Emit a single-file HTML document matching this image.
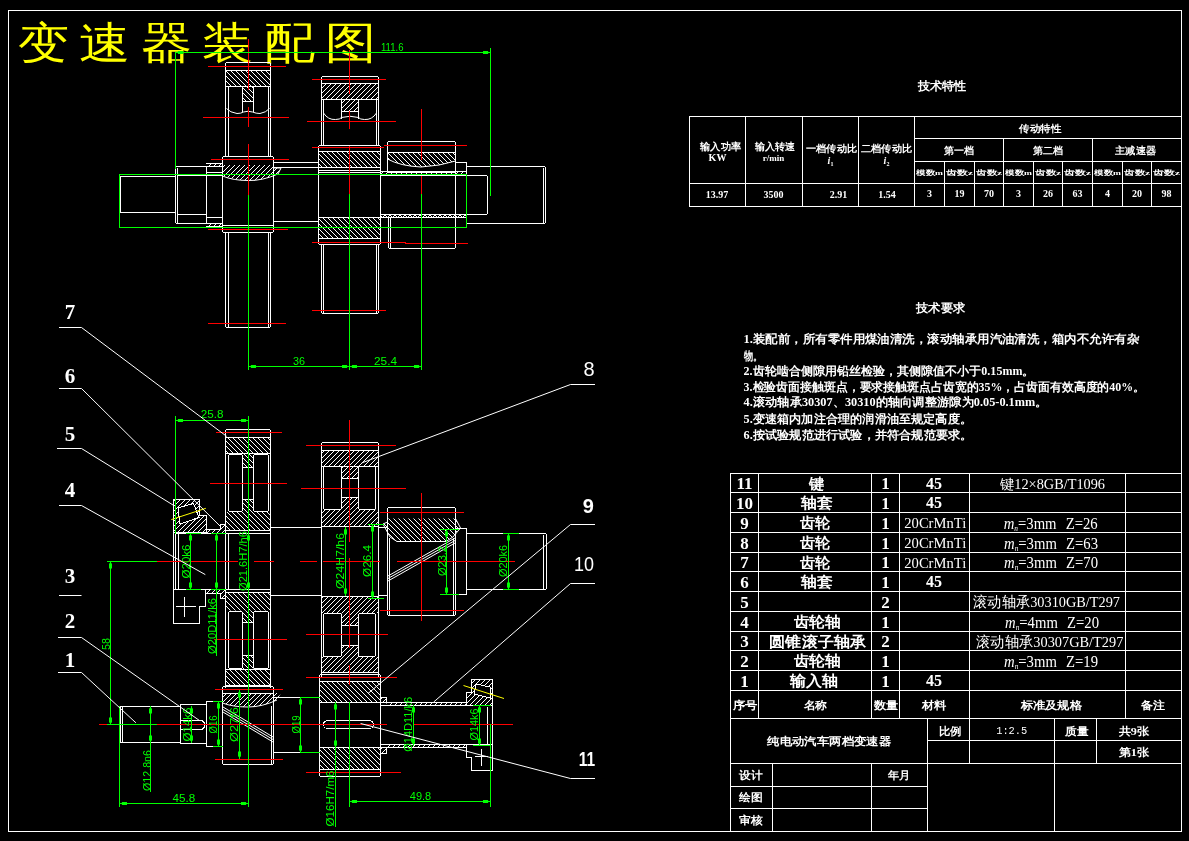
<!DOCTYPE html><html><head><meta charset="utf-8"><style>html,body{margin:0;padding:0;background:#000;width:1189px;height:841px;overflow:hidden}svg{display:block;will-change:transform}</style></head><body>
<svg width="1189" height="841" viewBox="0 0 1189 841">
<defs>
<pattern id="hA" patternUnits="userSpaceOnUse" width="5" height="5" shape-rendering="crispEdges" stroke-linecap="square"><rect x="4" y="0" width="1" height="1" fill="#fff"/><rect x="3" y="1" width="1" height="1" fill="#fff"/><rect x="2" y="2" width="1" height="1" fill="#fff"/><rect x="1" y="3" width="1" height="1" fill="#fff"/><rect x="0" y="4" width="1" height="1" fill="#fff"/></pattern>
<pattern id="hB" patternUnits="userSpaceOnUse" width="5" height="5" shape-rendering="crispEdges" stroke-linecap="square"><rect x="0" y="0" width="1" height="1" fill="#fff"/><rect x="1" y="1" width="1" height="1" fill="#fff"/><rect x="2" y="2" width="1" height="1" fill="#fff"/><rect x="3" y="3" width="1" height="1" fill="#fff"/><rect x="4" y="4" width="1" height="1" fill="#fff"/></pattern>
</defs>
<rect x="0" y="0" width="1189" height="841" fill="#000"/>
<g fill="none" stroke-width="1" shape-rendering="crispEdges" stroke-linecap="square">
<rect x="8.5" y="10.5" width="1173" height="821" stroke="#fff" fill="none" rx="0"/>
</g>
<g fill="none" stroke-width="1" shape-rendering="crispEdges" stroke-linecap="square">
<rect x="689.5" y="116.5" width="492" height="90" stroke="#fff" fill="none" rx="0"/>
<line x1="689.5" y1="183.5" x2="1181.5" y2="183.5" stroke="#fff" stroke-width="1"/>
<line x1="745.5" y1="116.5" x2="745.5" y2="206.5" stroke="#fff" stroke-width="1"/>
<line x1="802.5" y1="116.5" x2="802.5" y2="206.5" stroke="#fff" stroke-width="1"/>
<line x1="858.5" y1="116.5" x2="858.5" y2="206.5" stroke="#fff" stroke-width="1"/>
<line x1="914.5" y1="116.5" x2="914.5" y2="206.5" stroke="#fff" stroke-width="1"/>
<line x1="914.5" y1="138.5" x2="1181.5" y2="138.5" stroke="#fff" stroke-width="1"/>
<line x1="914.5" y1="161.5" x2="1181.5" y2="161.5" stroke="#fff" stroke-width="1"/>
<line x1="1003.5" y1="138.5" x2="1003.5" y2="206.5" stroke="#fff" stroke-width="1"/>
<line x1="1092.5" y1="138.5" x2="1092.5" y2="206.5" stroke="#fff" stroke-width="1"/>
<line x1="944.5" y1="161.5" x2="944.5" y2="206.5" stroke="#fff" stroke-width="1"/>
<line x1="974.5" y1="161.5" x2="974.5" y2="206.5" stroke="#fff" stroke-width="1"/>
<line x1="1033.5" y1="161.5" x2="1033.5" y2="206.5" stroke="#fff" stroke-width="1"/>
<line x1="1062.5" y1="161.5" x2="1062.5" y2="206.5" stroke="#fff" stroke-width="1"/>
<line x1="1122.5" y1="161.5" x2="1122.5" y2="206.5" stroke="#fff" stroke-width="1"/>
<line x1="1151.5" y1="161.5" x2="1151.5" y2="206.5" stroke="#fff" stroke-width="1"/>
<line x1="730.5" y1="473.5" x2="1181.5" y2="473.5" stroke="#fff" stroke-width="1"/>
<line x1="730.5" y1="492.5" x2="1181.5" y2="492.5" stroke="#fff" stroke-width="1"/>
<line x1="730.5" y1="512.5" x2="1181.5" y2="512.5" stroke="#fff" stroke-width="1"/>
<line x1="730.5" y1="532.5" x2="1181.5" y2="532.5" stroke="#fff" stroke-width="1"/>
<line x1="730.5" y1="552.5" x2="1181.5" y2="552.5" stroke="#fff" stroke-width="1"/>
<line x1="730.5" y1="571.5" x2="1181.5" y2="571.5" stroke="#fff" stroke-width="1"/>
<line x1="730.5" y1="591.5" x2="1181.5" y2="591.5" stroke="#fff" stroke-width="1"/>
<line x1="730.5" y1="611.5" x2="1181.5" y2="611.5" stroke="#fff" stroke-width="1"/>
<line x1="730.5" y1="631.5" x2="1181.5" y2="631.5" stroke="#fff" stroke-width="1"/>
<line x1="730.5" y1="650.5" x2="1181.5" y2="650.5" stroke="#fff" stroke-width="1"/>
<line x1="730.5" y1="670.5" x2="1181.5" y2="670.5" stroke="#fff" stroke-width="1"/>
<line x1="730.5" y1="690.5" x2="1181.5" y2="690.5" stroke="#fff" stroke-width="1"/>
<line x1="730.5" y1="718.5" x2="1181.5" y2="718.5" stroke="#fff" stroke-width="1"/>
<line x1="758.5" y1="473.5" x2="758.5" y2="718.5" stroke="#fff" stroke-width="1"/>
<line x1="871.5" y1="473.5" x2="871.5" y2="718.5" stroke="#fff" stroke-width="1"/>
<line x1="899.5" y1="473.5" x2="899.5" y2="718.5" stroke="#fff" stroke-width="1"/>
<line x1="969.5" y1="473.5" x2="969.5" y2="718.5" stroke="#fff" stroke-width="1"/>
<line x1="1125.5" y1="473.5" x2="1125.5" y2="718.5" stroke="#fff" stroke-width="1"/>
<line x1="730.5" y1="473.5" x2="730.5" y2="831.5" stroke="#fff" stroke-width="1"/>
<line x1="927.5" y1="718.5" x2="927.5" y2="831.5" stroke="#fff" stroke-width="1"/>
<line x1="730.5" y1="763.5" x2="1181.5" y2="763.5" stroke="#fff" stroke-width="1"/>
<line x1="927.5" y1="740.5" x2="1181.5" y2="740.5" stroke="#fff" stroke-width="1"/>
<line x1="969.5" y1="718.5" x2="969.5" y2="763.5" stroke="#fff" stroke-width="1"/>
<line x1="1096.5" y1="718.5" x2="1096.5" y2="763.5" stroke="#fff" stroke-width="1"/>
<line x1="1054.5" y1="718.5" x2="1054.5" y2="831.5" stroke="#fff" stroke-width="1"/>
<line x1="730.5" y1="786.5" x2="927.5" y2="786.5" stroke="#fff" stroke-width="1"/>
<line x1="730.5" y1="808.5" x2="927.5" y2="808.5" stroke="#fff" stroke-width="1"/>
<line x1="772.5" y1="763.5" x2="772.5" y2="831.5" stroke="#fff" stroke-width="1"/>
<line x1="871.5" y1="763.5" x2="871.5" y2="831.5" stroke="#fff" stroke-width="1"/>
</g>
<text x="18" y="0" transform="matrix(1 0 0 0.86 0 58)" font-size="51" fill="#ff0" font-family="Liberation Serif" letter-spacing="10">变速器装配图</text>
<text x="917.5" y="89.82" font-size="12" fill="#fff" text-anchor="start" font-family="Liberation Serif" font-weight="bold" textLength="48.5" lengthAdjust="spacingAndGlyphs">技术特性</text>
<text x="700" y="150.1" font-size="10" fill="#fff" text-anchor="start" font-family="Liberation Serif" font-weight="bold" textLength="41" lengthAdjust="spacingAndGlyphs">输入功率</text>
<text x="717.5" y="160.9" font-size="10" fill="#fff" text-anchor="middle" font-family="Liberation Serif" font-weight="bold">KW</text>
<text x="755" y="150.1" font-size="10" fill="#fff" text-anchor="start" font-family="Liberation Serif" font-weight="bold" textLength="40" lengthAdjust="spacingAndGlyphs">输入转速</text>
<text x="773.5" y="160.56" font-size="9" fill="#fff" text-anchor="middle" font-family="Liberation Serif" font-weight="bold">r/min</text>
<text x="806" y="151.6" font-size="10" fill="#fff" text-anchor="start" font-family="Liberation Serif" font-weight="bold" textLength="51" lengthAdjust="spacingAndGlyphs">一档传动比</text>
<text x="830.5" y="163.6" font-size="10" fill="#fff" text-anchor="middle" font-family="Liberation Serif" font-weight="bold"><tspan font-style="italic">i</tspan><tspan font-size="6" dy="2">1</tspan></text>
<text x="861" y="151.6" font-size="10" fill="#fff" text-anchor="start" font-family="Liberation Serif" font-weight="bold" textLength="51" lengthAdjust="spacingAndGlyphs">二档传动比</text>
<text x="886.5" y="163.6" font-size="10" fill="#fff" text-anchor="middle" font-family="Liberation Serif" font-weight="bold"><tspan font-style="italic">i</tspan><tspan font-size="6" dy="2">2</tspan></text>
<text x="1019" y="132.1" font-size="10" fill="#fff" text-anchor="start" font-family="Liberation Serif" font-weight="bold" textLength="42" lengthAdjust="spacingAndGlyphs">传动特性</text>
<text x="944" y="153.6" font-size="10" fill="#fff" text-anchor="start" font-family="Liberation Serif" font-weight="bold" textLength="30" lengthAdjust="spacingAndGlyphs">第一档</text>
<text x="1033" y="153.6" font-size="10" fill="#fff" text-anchor="start" font-family="Liberation Serif" font-weight="bold" textLength="30" lengthAdjust="spacingAndGlyphs">第二档</text>
<text x="1115" y="153.6" font-size="10" fill="#fff" text-anchor="start" font-family="Liberation Serif" font-weight="bold" textLength="41" lengthAdjust="spacingAndGlyphs">主减速器</text>
<text x="916" y="175.02" font-size="7" fill="#fff" text-anchor="start" font-family="Liberation Serif" font-weight="bold" textLength="27" lengthAdjust="spacingAndGlyphs">模数m</text>
<text x="946" y="175.02" font-size="7" fill="#fff" text-anchor="start" font-family="Liberation Serif" font-weight="bold" textLength="27" lengthAdjust="spacingAndGlyphs">齿数z</text>
<text x="976" y="175.02" font-size="7" fill="#fff" text-anchor="start" font-family="Liberation Serif" font-weight="bold" textLength="26" lengthAdjust="spacingAndGlyphs">齿数z</text>
<text x="1005" y="175.02" font-size="7" fill="#fff" text-anchor="start" font-family="Liberation Serif" font-weight="bold" textLength="27" lengthAdjust="spacingAndGlyphs">模数m</text>
<text x="1035" y="175.02" font-size="7" fill="#fff" text-anchor="start" font-family="Liberation Serif" font-weight="bold" textLength="26" lengthAdjust="spacingAndGlyphs">齿数z</text>
<text x="1064" y="175.02" font-size="7" fill="#fff" text-anchor="start" font-family="Liberation Serif" font-weight="bold" textLength="27" lengthAdjust="spacingAndGlyphs">齿数z</text>
<text x="1094" y="175.02" font-size="7" fill="#fff" text-anchor="start" font-family="Liberation Serif" font-weight="bold" textLength="27" lengthAdjust="spacingAndGlyphs">模数m</text>
<text x="1124" y="175.02" font-size="7" fill="#fff" text-anchor="start" font-family="Liberation Serif" font-weight="bold" textLength="26" lengthAdjust="spacingAndGlyphs">齿数z</text>
<text x="1153" y="175.02" font-size="7" fill="#fff" text-anchor="start" font-family="Liberation Serif" font-weight="bold" textLength="27" lengthAdjust="spacingAndGlyphs">齿数z</text>
<text x="717" y="198.1" font-size="10" fill="#fff" text-anchor="middle" font-family="Liberation Serif" font-weight="bold">13.97</text>
<text x="773.5" y="198.1" font-size="10" fill="#fff" text-anchor="middle" font-family="Liberation Serif" font-weight="bold">3500</text>
<text x="838.5" y="198.1" font-size="10" fill="#fff" text-anchor="middle" font-family="Liberation Serif" font-weight="bold">2.91</text>
<text x="887" y="198.1" font-size="10" fill="#fff" text-anchor="middle" font-family="Liberation Serif" font-weight="bold">1.54</text>
<text x="929.5" y="197.1" font-size="10" fill="#fff" text-anchor="middle" font-family="Liberation Serif" font-weight="bold">3</text>
<text x="959.5" y="197.1" font-size="10" fill="#fff" text-anchor="middle" font-family="Liberation Serif" font-weight="bold">19</text>
<text x="989" y="197.1" font-size="10" fill="#fff" text-anchor="middle" font-family="Liberation Serif" font-weight="bold">70</text>
<text x="1018.5" y="197.1" font-size="10" fill="#fff" text-anchor="middle" font-family="Liberation Serif" font-weight="bold">3</text>
<text x="1048" y="197.1" font-size="10" fill="#fff" text-anchor="middle" font-family="Liberation Serif" font-weight="bold">26</text>
<text x="1077.5" y="197.1" font-size="10" fill="#fff" text-anchor="middle" font-family="Liberation Serif" font-weight="bold">63</text>
<text x="1107.5" y="197.1" font-size="10" fill="#fff" text-anchor="middle" font-family="Liberation Serif" font-weight="bold">4</text>
<text x="1137" y="197.1" font-size="10" fill="#fff" text-anchor="middle" font-family="Liberation Serif" font-weight="bold">20</text>
<text x="1166.5" y="197.1" font-size="10" fill="#fff" text-anchor="middle" font-family="Liberation Serif" font-weight="bold">98</text>
<text x="916" y="312.32" font-size="12" fill="#fff" text-anchor="start" font-family="Liberation Serif" font-weight="bold" textLength="49" lengthAdjust="spacingAndGlyphs">技术要求</text>
<text x="743.6" y="343.12" font-size="12" fill="#fff" text-anchor="start" font-family="Liberation Serif" font-weight="bold" textLength="395.4" lengthAdjust="spacingAndGlyphs">1.装配前，所有零件用煤油清洗，滚动轴承用汽油清洗，箱内不允许有杂</text>
<text x="743.6" y="359.72" font-size="12" fill="#fff" text-anchor="start" font-family="Liberation Serif" font-weight="bold" textLength="18.4" lengthAdjust="spacingAndGlyphs">物。</text>
<text x="743.6" y="374.92" font-size="12" fill="#fff" text-anchor="start" font-family="Liberation Serif" font-weight="bold" textLength="290.9" lengthAdjust="spacingAndGlyphs">2.齿轮啮合侧隙用铅丝检验，其侧隙值不小于0.15mm。</text>
<text x="743.6" y="390.82" font-size="12" fill="#fff" text-anchor="start" font-family="Liberation Serif" font-weight="bold" textLength="401.4" lengthAdjust="spacingAndGlyphs">3.检验齿面接触斑点，要求接触斑点占齿宽的35%，占齿面有效高度的40%。</text>
<text x="743.6" y="406.32" font-size="12" fill="#fff" text-anchor="start" font-family="Liberation Serif" font-weight="bold" textLength="303.9" lengthAdjust="spacingAndGlyphs">4.滚动轴承30307、30310的轴向调整游隙为0.05-0.1mm。</text>
<text x="743.6" y="422.62" font-size="12" fill="#fff" text-anchor="start" font-family="Liberation Serif" font-weight="bold" textLength="228.4" lengthAdjust="spacingAndGlyphs">5.变速箱内加注合理的润滑油至规定高度。</text>
<text x="743.6" y="438.52" font-size="12" fill="#fff" text-anchor="start" font-family="Liberation Serif" font-weight="bold" textLength="228.9" lengthAdjust="spacingAndGlyphs">6.按试验规范进行试验，并符合规范要求。</text>
<text x="744.5" y="489.45" font-size="17" fill="#fff" text-anchor="middle" font-family="Liberation Serif" font-weight="bold">11</text>
<text x="808.8" y="488.9" font-size="15" fill="#fff" text-anchor="start" font-family="Liberation Serif" font-weight="bold" textLength="15.2" lengthAdjust="spacingAndGlyphs">键</text>
<text x="885.5" y="489.45" font-size="17" fill="#fff" text-anchor="middle" font-family="Liberation Serif" font-weight="bold">1</text>
<text x="934" y="488.94" font-size="16" fill="#fff" text-anchor="middle" font-family="Liberation Serif" font-weight="bold">45</text>
<text x="1000" y="488.54" font-size="14" fill="#fff" text-anchor="start" font-family="Liberation Serif" font-weight="normal" textLength="105" lengthAdjust="spacingAndGlyphs">键12×8GB/T1096</text>
<text x="744.5" y="508.95" font-size="17" fill="#fff" text-anchor="middle" font-family="Liberation Serif" font-weight="bold">10</text>
<text x="801.3" y="508.4" font-size="15" fill="#fff" text-anchor="start" font-family="Liberation Serif" font-weight="bold" textLength="31.7" lengthAdjust="spacingAndGlyphs">轴套</text>
<text x="885.5" y="508.95" font-size="17" fill="#fff" text-anchor="middle" font-family="Liberation Serif" font-weight="bold">1</text>
<text x="934" y="508.44" font-size="16" fill="#fff" text-anchor="middle" font-family="Liberation Serif" font-weight="bold">45</text>
<text x="744.5" y="528.95" font-size="17" fill="#fff" text-anchor="middle" font-family="Liberation Serif" font-weight="bold">9</text>
<text x="800.3" y="528.4" font-size="15" fill="#fff" text-anchor="start" font-family="Liberation Serif" font-weight="bold" textLength="30.3" lengthAdjust="spacingAndGlyphs">齿轮</text>
<text x="885.5" y="528.95" font-size="17" fill="#fff" text-anchor="middle" font-family="Liberation Serif" font-weight="bold">1</text>
<text x="904.3" y="528.1" font-size="15" fill="#fff" text-anchor="start" font-family="Liberation Serif" font-weight="normal" textLength="61.9" lengthAdjust="spacingAndGlyphs">20CrMnTi</text>
<text x="1003.7" y="528.5" font-size="16" fill="#fff" text-anchor="start" font-family="Liberation Serif" font-weight="normal" textLength="94" lengthAdjust="spacingAndGlyphs"><tspan font-style="italic">m</tspan><tspan font-size="8" font-style="italic" dy="2">n</tspan><tspan dy="-2">=3mm</tspan><tspan dx="10">Z=26</tspan></text>
<text x="744.5" y="548.95" font-size="17" fill="#fff" text-anchor="middle" font-family="Liberation Serif" font-weight="bold">8</text>
<text x="800.3" y="548.4" font-size="15" fill="#fff" text-anchor="start" font-family="Liberation Serif" font-weight="bold" textLength="30.3" lengthAdjust="spacingAndGlyphs">齿轮</text>
<text x="885.5" y="548.95" font-size="17" fill="#fff" text-anchor="middle" font-family="Liberation Serif" font-weight="bold">1</text>
<text x="904.3" y="548.1" font-size="15" fill="#fff" text-anchor="start" font-family="Liberation Serif" font-weight="normal" textLength="61.9" lengthAdjust="spacingAndGlyphs">20CrMnTi</text>
<text x="1004" y="548.5" font-size="16" fill="#fff" text-anchor="start" font-family="Liberation Serif" font-weight="normal" textLength="94" lengthAdjust="spacingAndGlyphs"><tspan font-style="italic">m</tspan><tspan font-size="8" font-style="italic" dy="2">n</tspan><tspan dy="-2">=3mm</tspan><tspan dx="10">Z=63</tspan></text>
<text x="744.5" y="568.45" font-size="17" fill="#fff" text-anchor="middle" font-family="Liberation Serif" font-weight="bold">7</text>
<text x="800.3" y="567.9" font-size="15" fill="#fff" text-anchor="start" font-family="Liberation Serif" font-weight="bold" textLength="30.3" lengthAdjust="spacingAndGlyphs">齿轮</text>
<text x="885.5" y="568.45" font-size="17" fill="#fff" text-anchor="middle" font-family="Liberation Serif" font-weight="bold">1</text>
<text x="904.3" y="567.6" font-size="15" fill="#fff" text-anchor="start" font-family="Liberation Serif" font-weight="normal" textLength="61.9" lengthAdjust="spacingAndGlyphs">20CrMnTi</text>
<text x="1004" y="568" font-size="16" fill="#fff" text-anchor="start" font-family="Liberation Serif" font-weight="normal" textLength="94" lengthAdjust="spacingAndGlyphs"><tspan font-style="italic">m</tspan><tspan font-size="8" font-style="italic" dy="2">n</tspan><tspan dy="-2">=3mm</tspan><tspan dx="10">Z=70</tspan></text>
<text x="744.5" y="587.95" font-size="17" fill="#fff" text-anchor="middle" font-family="Liberation Serif" font-weight="bold">6</text>
<text x="801.3" y="587.4" font-size="15" fill="#fff" text-anchor="start" font-family="Liberation Serif" font-weight="bold" textLength="31.7" lengthAdjust="spacingAndGlyphs">轴套</text>
<text x="885.5" y="587.95" font-size="17" fill="#fff" text-anchor="middle" font-family="Liberation Serif" font-weight="bold">1</text>
<text x="934" y="587.44" font-size="16" fill="#fff" text-anchor="middle" font-family="Liberation Serif" font-weight="bold">45</text>
<text x="744.5" y="607.95" font-size="17" fill="#fff" text-anchor="middle" font-family="Liberation Serif" font-weight="bold">5</text>
<text x="885.5" y="607.95" font-size="17" fill="#fff" text-anchor="middle" font-family="Liberation Serif" font-weight="bold">2</text>
<text x="973" y="607.4" font-size="15" fill="#fff" text-anchor="start" font-family="Liberation Serif" font-weight="normal" textLength="147" lengthAdjust="spacingAndGlyphs">滚动轴承30310GB/T297</text>
<text x="744.5" y="627.95" font-size="17" fill="#fff" text-anchor="middle" font-family="Liberation Serif" font-weight="bold">4</text>
<text x="793.6" y="627.4" font-size="15" fill="#fff" text-anchor="start" font-family="Liberation Serif" font-weight="bold" textLength="47.4" lengthAdjust="spacingAndGlyphs">齿轮轴</text>
<text x="885.5" y="627.95" font-size="17" fill="#fff" text-anchor="middle" font-family="Liberation Serif" font-weight="bold">1</text>
<text x="1005" y="627.5" font-size="16" fill="#fff" text-anchor="start" font-family="Liberation Serif" font-weight="normal" textLength="94" lengthAdjust="spacingAndGlyphs"><tspan font-style="italic">m</tspan><tspan font-size="8" font-style="italic" dy="2">n</tspan><tspan dy="-2">=4mm</tspan><tspan dx="10">Z=20</tspan></text>
<text x="744.5" y="647.45" font-size="17" fill="#fff" text-anchor="middle" font-family="Liberation Serif" font-weight="bold">3</text>
<text x="769.4" y="646.9" font-size="15" fill="#fff" text-anchor="start" font-family="Liberation Serif" font-weight="bold" textLength="96.6" lengthAdjust="spacingAndGlyphs">圆锥滚子轴承</text>
<text x="885.5" y="647.45" font-size="17" fill="#fff" text-anchor="middle" font-family="Liberation Serif" font-weight="bold">2</text>
<text x="976" y="646.9" font-size="15" fill="#fff" text-anchor="start" font-family="Liberation Serif" font-weight="normal" textLength="147.3" lengthAdjust="spacingAndGlyphs">滚动轴承30307GB/T297</text>
<text x="744.5" y="666.95" font-size="17" fill="#fff" text-anchor="middle" font-family="Liberation Serif" font-weight="bold">2</text>
<text x="793.6" y="666.4" font-size="15" fill="#fff" text-anchor="start" font-family="Liberation Serif" font-weight="bold" textLength="47.4" lengthAdjust="spacingAndGlyphs">齿轮轴</text>
<text x="885.5" y="666.95" font-size="17" fill="#fff" text-anchor="middle" font-family="Liberation Serif" font-weight="bold">1</text>
<text x="1004" y="666.5" font-size="16" fill="#fff" text-anchor="start" font-family="Liberation Serif" font-weight="normal" textLength="94" lengthAdjust="spacingAndGlyphs"><tspan font-style="italic">m</tspan><tspan font-size="8" font-style="italic" dy="2">n</tspan><tspan dy="-2">=3mm</tspan><tspan dx="10">Z=19</tspan></text>
<text x="744.5" y="686.95" font-size="17" fill="#fff" text-anchor="middle" font-family="Liberation Serif" font-weight="bold">1</text>
<text x="789.7" y="686.4" font-size="15" fill="#fff" text-anchor="start" font-family="Liberation Serif" font-weight="bold" textLength="48.3" lengthAdjust="spacingAndGlyphs">输入轴</text>
<text x="885.5" y="686.95" font-size="17" fill="#fff" text-anchor="middle" font-family="Liberation Serif" font-weight="bold">1</text>
<text x="934" y="686.44" font-size="16" fill="#fff" text-anchor="middle" font-family="Liberation Serif" font-weight="bold">45</text>
<text x="732.6" y="708.56" font-size="11" fill="#fff" text-anchor="start" font-family="Liberation Serif" font-weight="bold" textLength="24.7" lengthAdjust="spacingAndGlyphs">序号</text>
<text x="803.6" y="708.56" font-size="11" fill="#fff" text-anchor="start" font-family="Liberation Serif" font-weight="bold" textLength="23.7" lengthAdjust="spacingAndGlyphs">名称</text>
<text x="873.8" y="708.56" font-size="11" fill="#fff" text-anchor="start" font-family="Liberation Serif" font-weight="bold" textLength="24.4" lengthAdjust="spacingAndGlyphs">数量</text>
<text x="922" y="709.26" font-size="11" fill="#fff" text-anchor="start" font-family="Liberation Serif" font-weight="bold" textLength="24.5" lengthAdjust="spacingAndGlyphs">材料</text>
<text x="1020.7" y="709.26" font-size="11" fill="#fff" text-anchor="start" font-family="Liberation Serif" font-weight="bold" textLength="61.3" lengthAdjust="spacingAndGlyphs">标准及规格</text>
<text x="1140.6" y="709.26" font-size="11" fill="#fff" text-anchor="start" font-family="Liberation Serif" font-weight="bold" textLength="24" lengthAdjust="spacingAndGlyphs">备注</text>
<text x="938.7" y="734.56" font-size="11" fill="#fff" text-anchor="start" font-family="Liberation Serif" font-weight="bold" textLength="22.7" lengthAdjust="spacingAndGlyphs">比例</text>
<text x="996.2" y="733.96" font-size="11" fill="#fff" text-anchor="start" font-family="Liberation Mono" font-weight="normal" textLength="31.1" lengthAdjust="spacingAndGlyphs">1:2.5</text>
<text x="1064.9" y="734.56" font-size="11" fill="#fff" text-anchor="start" font-family="Liberation Serif" font-weight="bold" textLength="23.4" lengthAdjust="spacingAndGlyphs">质量</text>
<text x="1118.6" y="734.56" font-size="11" fill="#fff" text-anchor="start" font-family="Liberation Serif" font-weight="bold" textLength="30.4" lengthAdjust="spacingAndGlyphs">共9张</text>
<text x="1118.6" y="755.96" font-size="11" fill="#fff" text-anchor="start" font-family="Liberation Serif" font-weight="bold" textLength="30.4" lengthAdjust="spacingAndGlyphs">第1张</text>
<text x="767.3" y="745.46" font-size="11" fill="#fff" text-anchor="start" font-family="Liberation Serif" font-weight="bold" textLength="123.7" lengthAdjust="spacingAndGlyphs">纯电动汽车两档变速器</text>
<text x="739" y="779.06" font-size="11" fill="#fff" text-anchor="start" font-family="Liberation Serif" font-weight="bold" textLength="23.6" lengthAdjust="spacingAndGlyphs">设计</text>
<text x="888.2" y="779.06" font-size="11" fill="#fff" text-anchor="start" font-family="Liberation Serif" font-weight="bold" textLength="22.4" lengthAdjust="spacingAndGlyphs">年月</text>
<text x="739" y="801.36" font-size="11" fill="#fff" text-anchor="start" font-family="Liberation Serif" font-weight="bold" textLength="23.6" lengthAdjust="spacingAndGlyphs">绘图</text>
<text x="739" y="824.26" font-size="11" fill="#fff" text-anchor="start" font-family="Liberation Serif" font-weight="bold" textLength="23.6" lengthAdjust="spacingAndGlyphs">审核</text>
<g fill="none" stroke-width="1">
<rect x="225.5" y="70.5" width="45" height="16" fill="url(#hB)" stroke="none"/>
<rect x="242.5" y="86.5" width="11" height="15" fill="url(#hB)" stroke="none"/>
<path d="M222.5,165 H273.5 V168 H281 L278,174 Q262,181 248,180.5 Q233,180 222.5,176 Z" fill="url(#hA)" stroke="none"/>
<rect x="206.5" y="163.5" width="15.5" height="3" fill="url(#hA)" stroke="none"/>
<rect x="206.5" y="223.5" width="15.5" height="3" fill="url(#hA)" stroke="none"/>
<rect x="321.5" y="83.5" width="57" height="16" fill="url(#hA)" stroke="none"/>
<path d="M341.5,99.5 H358.5 V111.5 H341.5 Z" fill="url(#hA)" stroke="none"/>
<rect x="318.5" y="151.5" width="62" height="16" fill="url(#hB)" stroke="none"/>
<rect x="318.5" y="217.5" width="62" height="20.5" fill="url(#hB)" stroke="none"/>
<path d="M387.5,152.5 H455.5 V161 Q440,166 421,167 Q400,166 387.5,159 Z" fill="url(#hB)" stroke="none"/>
<rect x="380.5" y="171.5" width="85.5" height="2.5" fill="url(#hA)" stroke="none"/>
<rect x="380.5" y="215" width="85.5" height="2.5" fill="url(#hA)" stroke="none"/>
<rect x="380.5" y="215" width="85.5" height="2.5" fill="url(#hB)" stroke="none"/>
</g>
<g fill="none" stroke-width="1" shape-rendering="crispEdges" stroke-linecap="square">
<rect x="120.5" y="176.5" width="55" height="36" stroke="#fff" fill="none" rx="0"/>
<rect x="175.5" y="166.5" width="31" height="57" stroke="#fff" fill="none" rx="2"/>
<line x1="177.5" y1="168" x2="177.5" y2="222" stroke="#fff" stroke-width="1"/>
<line x1="177.5" y1="175.5" x2="222.5" y2="175.5" stroke="#fff" stroke-width="1"/>
<line x1="177.5" y1="214.5" x2="206.5" y2="214.5" stroke="#fff" stroke-width="1"/>
<line x1="206.5" y1="172.5" x2="222.5" y2="172.5" stroke="#fff" stroke-width="1"/>
<line x1="206.5" y1="217.5" x2="222.5" y2="217.5" stroke="#fff" stroke-width="1"/>
<line x1="206.5" y1="163.5" x2="222.5" y2="163.5" stroke="#fff" stroke-width="1"/>
<line x1="206.5" y1="166.5" x2="222.5" y2="166.5" stroke="#fff" stroke-width="1"/>
<line x1="206.5" y1="226.5" x2="222.5" y2="226.5" stroke="#fff" stroke-width="1"/>
<line x1="206.5" y1="223.5" x2="222.5" y2="223.5" stroke="#fff" stroke-width="1"/>
<rect x="225.5" y="62.5" width="45" height="94" stroke="#fff" fill="none" rx="2"/>
<line x1="225.5" y1="70.5" x2="270.5" y2="70.5" stroke="#fff" stroke-width="1"/>
<line x1="225.5" y1="86.5" x2="270.5" y2="86.5" stroke="#fff" stroke-width="1"/>
<line x1="228.5" y1="86.5" x2="228.5" y2="156.5" stroke="#fff" stroke-width="1"/>
<line x1="268.5" y1="86.5" x2="268.5" y2="156.5" stroke="#fff" stroke-width="1"/>
<line x1="242.5" y1="86.5" x2="242.5" y2="111.5" stroke="#fff" stroke-width="1"/>
<line x1="253.5" y1="86.5" x2="253.5" y2="111.5" stroke="#fff" stroke-width="1"/>
<line x1="242.5" y1="101.5" x2="253.5" y2="101.5" stroke="#fff" stroke-width="1"/>
</g><g fill="none" stroke-width="1">
<path d="M226.5,108.5 Q230,112.5 237,113.5 Q241,113.5 243.5,112 Q248,110.5 252.5,112 Q256,113.5 260,113.5 Q266,112.5 269.5,108.5" stroke="#fff" fill="none"/>
<path d="M222.5,176 Q233,180.5 248,180.5 Q262,181 278,174 L281,168 H273.5" stroke="#fff" fill="none"/>
<path d="M387.5,159 Q400,166 421,167 Q440,166 455.5,161" stroke="#fff" fill="none"/>
<path d="M323.5,113 Q328,120 335.5,119.5 Q340,119.5 341.5,117.5 Q350,115 358.5,117.5 Q360,119.5 364.5,119.5 Q372,120 376.5,113" stroke="#fff" fill="none"/>
</g><g fill="none" stroke-width="1" shape-rendering="crispEdges" stroke-linecap="square">
<rect x="222.5" y="156.5" width="51" height="76" stroke="#fff" fill="none" rx="2"/>
<line x1="222.5" y1="225.5" x2="273.5" y2="225.5" stroke="#fff" stroke-width="1"/>
<rect x="225.5" y="232.5" width="45" height="95" stroke="#fff" fill="none" rx="2"/>
<line x1="228.5" y1="232.5" x2="228.5" y2="327.5" stroke="#fff" stroke-width="1"/>
<line x1="268.5" y1="232.5" x2="268.5" y2="327.5" stroke="#fff" stroke-width="1"/>
<line x1="273.5" y1="162.5" x2="318.5" y2="162.5" stroke="#fff" stroke-width="1"/>
<line x1="273.5" y1="167.5" x2="318.5" y2="167.5" stroke="#fff" stroke-width="1"/>
<line x1="273.5" y1="221.5" x2="318.5" y2="221.5" stroke="#fff" stroke-width="1"/>
<rect x="321.5" y="76.5" width="57" height="69" stroke="#fff" fill="none" rx="2"/>
<line x1="321.5" y1="83.5" x2="378.5" y2="83.5" stroke="#fff" stroke-width="1"/>
<line x1="321.5" y1="99.5" x2="378.5" y2="99.5" stroke="#fff" stroke-width="1"/>
<line x1="323.5" y1="99.5" x2="323.5" y2="145.5" stroke="#fff" stroke-width="1"/>
<line x1="376.5" y1="99.5" x2="376.5" y2="145.5" stroke="#fff" stroke-width="1"/>
<line x1="341.5" y1="99.5" x2="341.5" y2="118.5" stroke="#fff" stroke-width="1"/>
<line x1="358.5" y1="99.5" x2="358.5" y2="118.5" stroke="#fff" stroke-width="1"/>
<line x1="341.5" y1="111.5" x2="358.5" y2="111.5" stroke="#fff" stroke-width="1"/>
<rect x="318.5" y="145.5" width="62" height="99" stroke="#fff" fill="none" rx="2"/>
<line x1="318.5" y1="151.5" x2="380.5" y2="151.5" stroke="#fff" stroke-width="1"/>
<line x1="318.5" y1="167.5" x2="380.5" y2="167.5" stroke="#fff" stroke-width="1"/>
<line x1="318.5" y1="170.5" x2="380.5" y2="170.5" stroke="#fff" stroke-width="1"/>
<line x1="318.5" y1="172.5" x2="380.5" y2="172.5" stroke="#fff" stroke-width="1"/>
<line x1="318.5" y1="217.5" x2="380.5" y2="217.5" stroke="#fff" stroke-width="1"/>
<line x1="318.5" y1="238.5" x2="380.5" y2="238.5" stroke="#fff" stroke-width="1"/>
<rect x="321.5" y="244.5" width="57" height="69" stroke="#fff" fill="none" rx="2"/>
<line x1="323.5" y1="244.5" x2="323.5" y2="313.5" stroke="#fff" stroke-width="1"/>
<line x1="376.5" y1="244.5" x2="376.5" y2="313.5" stroke="#fff" stroke-width="1"/>
<path d="M387.5,172.5 V143.5 Q387.5,141.5 389.5,141.5 H453.5 Q455.5,141.5 455.5,143.5 V172.5" stroke="#fff" fill="none"/>
<line x1="387.5" y1="152.5" x2="455.5" y2="152.5" stroke="#fff" stroke-width="1"/>
<line x1="387.5" y1="172.5" x2="455.5" y2="172.5" stroke="#fff" stroke-width="1"/>
<rect x="388.5" y="217.5" width="67" height="31" stroke="#fff" fill="none" rx="2"/>
<line x1="390.5" y1="217.5" x2="390.5" y2="248" stroke="#fff" stroke-width="1"/>
<line x1="380.5" y1="171.5" x2="466.5" y2="171.5" stroke="#fff" stroke-width="1"/>
<line x1="380.5" y1="217.5" x2="466.5" y2="217.5" stroke="#fff" stroke-width="1"/>
<line x1="380.5" y1="214.5" x2="466.5" y2="214.5" stroke="#fff" stroke-width="1"/>
<rect x="455.5" y="162.5" width="11" height="65" stroke="#fff" fill="none" rx="0"/>
<rect x="466.5" y="166.5" width="79" height="57" stroke="#fff" fill="none" rx="2"/>
<line x1="543.5" y1="168" x2="543.5" y2="222" stroke="#fff" stroke-width="1"/>
<path d="M380.5,175.5 H485.5 Q487.5,175.5 487.5,177.5 V212.5 Q487.5,214.5 485.5,214.5 H380.5" stroke="#fff" fill="none"/>
<line x1="380.5" y1="175.5" x2="380.5" y2="214.5" stroke="#fff" stroke-width="1"/>
<line x1="248.5" y1="39" x2="248.5" y2="89.5" stroke="#f00" stroke-width="1"/>
<line x1="248.5" y1="107" x2="248.5" y2="126" stroke="#f00" stroke-width="1"/>
<line x1="248.5" y1="144" x2="248.5" y2="195" stroke="#f00" stroke-width="1"/>
<line x1="349.5" y1="50" x2="349.5" y2="93.5" stroke="#f00" stroke-width="1"/>
<line x1="349.5" y1="111" x2="349.5" y2="128.5" stroke="#f00" stroke-width="1"/>
<line x1="349.5" y1="146" x2="349.5" y2="194.5" stroke="#f00" stroke-width="1"/>
<line x1="421.5" y1="109" x2="421.5" y2="159" stroke="#f00" stroke-width="1"/>
<line x1="421.5" y1="176" x2="421.5" y2="194" stroke="#f00" stroke-width="1"/>
<line x1="208" y1="66.5" x2="285" y2="66.5" stroke="#f00" stroke-width="1"/>
<line x1="203" y1="117.5" x2="288" y2="117.5" stroke="#f00" stroke-width="1"/>
<line x1="211" y1="159.5" x2="288" y2="159.5" stroke="#f00" stroke-width="1"/>
<line x1="208" y1="229.5" x2="287" y2="229.5" stroke="#f00" stroke-width="1"/>
<line x1="208" y1="323.5" x2="285" y2="323.5" stroke="#f00" stroke-width="1"/>
<line x1="312" y1="79.5" x2="385" y2="79.5" stroke="#f00" stroke-width="1"/>
<line x1="307" y1="121.5" x2="395" y2="121.5" stroke="#f00" stroke-width="1"/>
<line x1="312" y1="147.5" x2="383" y2="147.5" stroke="#f00" stroke-width="1"/>
<line x1="312" y1="242.5" x2="405" y2="242.5" stroke="#f00" stroke-width="1"/>
<line x1="312" y1="310.5" x2="385" y2="310.5" stroke="#f00" stroke-width="1"/>
<line x1="384" y1="145.5" x2="466" y2="145.5" stroke="#f00" stroke-width="1"/>
<line x1="405" y1="243.5" x2="467" y2="243.5" stroke="#f00" stroke-width="1"/>
<rect x="119.5" y="174.5" width="347" height="53" stroke="#0f0" fill="none" rx="0"/>
<line x1="175.5" y1="52.5" x2="490.5" y2="52.5" stroke="#0f0" stroke-width="1"/>
<line x1="175.5" y1="52" x2="175.5" y2="168.5" stroke="#0f0" stroke-width="1"/>
<line x1="490.5" y1="48" x2="490.5" y2="195" stroke="#0f0" stroke-width="1"/>
<line x1="248.5" y1="195" x2="248.5" y2="369.5" stroke="#0f0" stroke-width="1"/>
<line x1="349.5" y1="194.5" x2="349.5" y2="369.5" stroke="#0f0" stroke-width="1"/>
<line x1="421.5" y1="194" x2="421.5" y2="369.5" stroke="#0f0" stroke-width="1"/>
<line x1="248.5" y1="366.5" x2="421.5" y2="366.5" stroke="#0f0" stroke-width="1"/>
</g>
<rect x="178" y="51" width="5" height="3" fill="#0f0"/>
<polygon points="176,52.5 179,51.3 179,53.7" fill="#0f0"/>
<rect x="483" y="51" width="5" height="3" fill="#0f0"/>
<polygon points="490,52.5 487,51.3 487,53.7" fill="#0f0"/>
<rect x="251" y="365" width="5" height="3" fill="#0f0"/>
<polygon points="249,366.5 252,365.3 252,367.7" fill="#0f0"/>
<rect x="342" y="365" width="5" height="3" fill="#0f0"/>
<polygon points="349,366.5 346,365.3 346,367.7" fill="#0f0"/>
<rect x="352" y="365" width="5" height="3" fill="#0f0"/>
<polygon points="350,366.5 353,365.3 353,367.7" fill="#0f0"/>
<rect x="414" y="365" width="5" height="3" fill="#0f0"/>
<polygon points="421,366.5 418,365.3 418,367.7" fill="#0f0"/>
<text x="381" y="50.5" font-size="10" fill="#0f0" text-anchor="start" font-family="Liberation Sans" font-weight="normal" textLength="22.5" lengthAdjust="spacingAndGlyphs">111.6</text>
<text x="299" y="365" font-size="10" fill="#0f0" text-anchor="middle" font-family="Liberation Sans" font-weight="normal" textLength="12" lengthAdjust="spacingAndGlyphs">36</text>
<text x="374" y="365" font-size="10" fill="#0f0" text-anchor="start" font-family="Liberation Sans" font-weight="normal" textLength="23" lengthAdjust="spacingAndGlyphs">25.4</text>
<g fill="none" stroke-width="1">
<rect x="225.5" y="437" width="45" height="16" fill="url(#hB)" stroke="none"/>
<rect x="242.5" y="453" width="11" height="14" fill="url(#hB)" stroke="none"/>
<rect x="242.5" y="500" width="11" height="12" fill="url(#hB)" stroke="none"/>
<rect x="225.5" y="512" width="45" height="18.5" fill="url(#hB)" stroke="none"/>
<rect x="225.5" y="592.5" width="45" height="18" fill="url(#hB)" stroke="none"/>
<rect x="242.5" y="610.5" width="11" height="12.5" fill="url(#hB)" stroke="none"/>
<rect x="242.5" y="655" width="11" height="14" fill="url(#hB)" stroke="none"/>
<rect x="225.5" y="669" width="45" height="16" fill="url(#hB)" stroke="none"/>
<rect x="321.5" y="450.5" width="57" height="16" fill="url(#hA)" stroke="none"/>
<rect x="341.5" y="466.5" width="17" height="11.5" fill="url(#hA)" stroke="none"/>
<rect x="341.5" y="498" width="17" height="11.5" fill="url(#hA)" stroke="none"/>
<rect x="321.5" y="509.5" width="57" height="16.5" fill="url(#hA)" stroke="none"/>
<rect x="321.5" y="597" width="57" height="16" fill="url(#hA)" stroke="none"/>
<rect x="341.5" y="613" width="17" height="12" fill="url(#hA)" stroke="none"/>
<rect x="341.5" y="645" width="17" height="11" fill="url(#hA)" stroke="none"/>
<rect x="321.5" y="656" width="57" height="16" fill="url(#hA)" stroke="none"/>
<rect x="319.5" y="682" width="61" height="20" fill="url(#hB)" stroke="none"/>
<rect x="319.5" y="747" width="61" height="22" fill="url(#hB)" stroke="none"/>
<path d="M387.5,518.5 H455.5 L460.5,528 L453,537 L446,541.5 H397 L390,537 L383,524 L387.5,522 Z" fill="url(#hB)" stroke="none"/>
<path d="M222.5,693 H281 L277,700 Q262,707 248,707 Q233,707 222.5,703 Z" fill="url(#hA)" stroke="none"/>
<path d="M174,500 H199 V516 H206 V532 H174 Z" fill="url(#hA)" stroke="none"/>
<rect x="206.5" y="530" width="18.5" height="3" fill="url(#hA)" stroke="none"/>
<rect x="220" y="524.5" width="5.5" height="8.5" fill="url(#hA)" stroke="none"/>
<rect x="206.5" y="590" width="13.5" height="4" fill="url(#hA)" stroke="none"/>
<rect x="220" y="590" width="5.5" height="8.5" fill="url(#hA)" stroke="none"/>
<rect x="386.5" y="702.5" width="80" height="2.5" fill="url(#hA)" stroke="none"/>
<rect x="386.5" y="744.5" width="80" height="2.5" fill="url(#hA)" stroke="none"/>
<rect x="380.5" y="697.5" width="6" height="4.5" fill="url(#hA)" stroke="none"/>
<rect x="380.5" y="747" width="6" height="6" fill="url(#hA)" stroke="none"/>
<path d="M471.5,679.5 H492.5 V705 H466.5 V692.5 H471.5 Z" fill="url(#hA)" stroke="none"/>
</g>
<g fill="none" stroke-width="1" shape-rendering="crispEdges" stroke-linecap="square">
<polygon points="178,508 193.5,503.5 199,517.5 180,524" fill="#000" stroke="#fff"/>
<polygon points="476,684 490,687 490,698 474,694" fill="#000" stroke="#fff"/>
<rect x="178.5" y="533.5" width="50" height="56" stroke="#fff" fill="#000" rx="0"/>
<path d="M225.5,687 V431.5 Q225.5,429.5 227.5,429.5 H268.5 Q270.5,429.5 270.5,431.5 V687" stroke="#fff" fill="none"/>
<line x1="225.5" y1="437.5" x2="270.5" y2="437.5" stroke="#fff" stroke-width="1"/>
<line x1="225.5" y1="453.5" x2="270.5" y2="453.5" stroke="#fff" stroke-width="1"/>
<rect x="228.5" y="454.5" width="14" height="57" stroke="#fff" fill="none" rx="2"/>
<rect x="253.5" y="454.5" width="15" height="57" stroke="#fff" fill="none" rx="2"/>
<line x1="242.5" y1="467.5" x2="253.5" y2="467.5" stroke="#fff" stroke-width="1"/>
<line x1="242.5" y1="499.5" x2="253.5" y2="499.5" stroke="#fff" stroke-width="1"/>
<line x1="225.5" y1="530.5" x2="270.5" y2="530.5" stroke="#fff" stroke-width="1"/>
<line x1="228.5" y1="533.5" x2="270.5" y2="533.5" stroke="#fff" stroke-width="1"/>
<line x1="228.5" y1="589.5" x2="270.5" y2="589.5" stroke="#fff" stroke-width="1"/>
<line x1="225.5" y1="592.5" x2="270.5" y2="592.5" stroke="#fff" stroke-width="1"/>
<rect x="228.5" y="611.5" width="14" height="57" stroke="#fff" fill="none" rx="2"/>
<rect x="253.5" y="611.5" width="15" height="57" stroke="#fff" fill="none" rx="2"/>
<line x1="242.5" y1="622.5" x2="253.5" y2="622.5" stroke="#fff" stroke-width="1"/>
<line x1="242.5" y1="655.5" x2="253.5" y2="655.5" stroke="#fff" stroke-width="1"/>
<line x1="225.5" y1="669.5" x2="270.5" y2="669.5" stroke="#fff" stroke-width="1"/>
<line x1="225.5" y1="685.5" x2="270.5" y2="685.5" stroke="#fff" stroke-width="1"/>
<line x1="270.5" y1="527.5" x2="321.5" y2="527.5" stroke="#fff" stroke-width="1"/>
<line x1="270.5" y1="595.5" x2="321.5" y2="595.5" stroke="#fff" stroke-width="1"/>
<path d="M321.5,676 V444.5 Q321.5,442.5 323.5,442.5 H376.5 Q378.5,442.5 378.5,444.5 V676" stroke="#fff" fill="none"/>
<line x1="321.5" y1="450.5" x2="378.5" y2="450.5" stroke="#fff" stroke-width="1"/>
<line x1="321.5" y1="466.5" x2="378.5" y2="466.5" stroke="#fff" stroke-width="1"/>
<rect x="323.5" y="466.5" width="18" height="43" stroke="#fff" fill="none" rx="2"/>
<rect x="358.5" y="466.5" width="17" height="43" stroke="#fff" fill="none" rx="2"/>
<line x1="341.5" y1="478.5" x2="358.5" y2="478.5" stroke="#fff" stroke-width="1"/>
<line x1="341.5" y1="497.5" x2="358.5" y2="497.5" stroke="#fff" stroke-width="1"/>
<line x1="321.5" y1="526.5" x2="378.5" y2="526.5" stroke="#fff" stroke-width="1"/>
<line x1="321.5" y1="596.5" x2="378.5" y2="596.5" stroke="#fff" stroke-width="1"/>
<rect x="323.5" y="613.5" width="18" height="43" stroke="#fff" fill="none" rx="2"/>
<rect x="358.5" y="613.5" width="17" height="43" stroke="#fff" fill="none" rx="2"/>
<line x1="341.5" y1="625.5" x2="358.5" y2="625.5" stroke="#fff" stroke-width="1"/>
<line x1="341.5" y1="645.5" x2="358.5" y2="645.5" stroke="#fff" stroke-width="1"/>
<line x1="321.5" y1="672.5" x2="378.5" y2="672.5" stroke="#fff" stroke-width="1"/>
<rect x="319.5" y="674.5" width="61" height="102" stroke="#fff" fill="none" rx="2"/>
<line x1="319.5" y1="681.5" x2="380.5" y2="681.5" stroke="#fff" stroke-width="1"/>
<line x1="319.5" y1="702.5" x2="380.5" y2="702.5" stroke="#fff" stroke-width="1"/>
<line x1="319.5" y1="747.5" x2="380.5" y2="747.5" stroke="#fff" stroke-width="1"/>
<line x1="319.5" y1="769.5" x2="380.5" y2="769.5" stroke="#fff" stroke-width="1"/>
<rect x="323.5" y="720.5" width="50" height="8" rx="4" stroke="#fff" fill="none"/>
<rect x="387.5" y="507.5" width="68" height="108" stroke="#fff" fill="none" rx="2"/>
<line x1="389.5" y1="538" x2="389.5" y2="615" stroke="#fff" stroke-width="1"/>
<line x1="453.5" y1="538" x2="453.5" y2="615" stroke="#fff" stroke-width="1"/>
<line x1="455.5" y1="528.5" x2="466.5" y2="528.5" stroke="#fff" stroke-width="1"/>
<line x1="455.5" y1="594.5" x2="466.5" y2="594.5" stroke="#fff" stroke-width="1"/>
<line x1="466.5" y1="528.5" x2="466.5" y2="594.5" stroke="#fff" stroke-width="1"/>
<rect x="466.5" y="533.5" width="80" height="56" stroke="#fff" fill="none" rx="2"/>
<line x1="543.5" y1="535" x2="543.5" y2="588" stroke="#fff" stroke-width="1"/>
<line x1="378.5" y1="527.5" x2="387.5" y2="527.5" stroke="#fff" stroke-width="1"/>
<line x1="378.5" y1="595.5" x2="387.5" y2="595.5" stroke="#fff" stroke-width="1"/>
</g><g fill="none" stroke-width="1">
<polyline points="387.5,522 383,524 390,537 397,541.5 446,541.5 453,537 460.5,528 455.5,518.5" stroke="#fff" fill="none"/>
<path d="M222.5,703 Q233,707 248,707 Q262,707 277,700" stroke="#fff" fill="none"/>
<line x1="388" y1="576" x2="455" y2="538" stroke="#fff" stroke-width="1"/>
<line x1="388" y1="578.5" x2="455" y2="540.5" stroke="#fff" stroke-width="1"/>
<line x1="388" y1="581" x2="455" y2="543" stroke="#fff" stroke-width="1"/>
<line x1="223" y1="707" x2="273" y2="737" stroke="#fff" stroke-width="1"/>
<line x1="223" y1="709.5" x2="273" y2="739.5" stroke="#fff" stroke-width="1"/>
<line x1="223" y1="712" x2="273" y2="742" stroke="#fff" stroke-width="1"/>
</g><g fill="none" stroke-width="1" shape-rendering="crispEdges" stroke-linecap="square">
<path d="M173.5,499.5 H199.5 V515.5 H206.5 V532.5 H173.5 Z" stroke="#fff" fill="none"/>
<line x1="173.5" y1="532.5" x2="173.5" y2="623.5" stroke="#fff" stroke-width="1"/>
<rect x="175.5" y="533.5" width="53" height="56" stroke="#fff" fill="none" rx="0"/>
<line x1="206.5" y1="529.5" x2="220.5" y2="529.5" stroke="#fff" stroke-width="1"/>
<path d="M220.5,529.5 V524.5 H225.5 V533" stroke="#fff" fill="none"/>
<line x1="206.5" y1="533.5" x2="228.5" y2="533.5" stroke="#fff" stroke-width="1"/>
<path d="M173.5,589.5 H205.5 V606.5 H199.5 V623.5 H173.5" stroke="#fff" fill="none"/>
<line x1="206.5" y1="593.5" x2="220.5" y2="593.5" stroke="#fff" stroke-width="1"/>
<path d="M220.5,593.5 V598.5 H225.5 V590" stroke="#fff" fill="none"/>
<line x1="176" y1="606.5" x2="195" y2="606.5" stroke="#fff" stroke-width="1"/>
<line x1="184.5" y1="597" x2="184.5" y2="616" stroke="#fff" stroke-width="1"/>
<rect x="120.5" y="706.5" width="60" height="36" stroke="#fff" fill="none" rx="0"/>
<line x1="122.5" y1="707" x2="122.5" y2="742" stroke="#fff" stroke-width="1"/>
<rect x="180.5" y="704.5" width="26" height="39" stroke="#fff" fill="none" rx="0"/>
<path d="M180.5,720.5 H200.5 Q204.5,720.5 204.5,725 Q204.5,729.5 200.5,729.5 H180.5" stroke="#fff" fill="none"/>
<rect x="206.5" y="701.5" width="16" height="45" stroke="#fff" fill="none" rx="0"/>
<rect x="222.5" y="686.5" width="51" height="78" stroke="#fff" fill="none" rx="2"/>
<line x1="271.5" y1="706" x2="271.5" y2="763" stroke="#fff" stroke-width="1"/>
<line x1="222.5" y1="693.5" x2="273.5" y2="693.5" stroke="#fff" stroke-width="1"/>
<rect x="273.5" y="697.5" width="46" height="55" stroke="#fff" fill="none" rx="0"/>
<line x1="380.5" y1="702.5" x2="466.5" y2="702.5" stroke="#fff" stroke-width="1"/>
<line x1="380.5" y1="705.5" x2="466.5" y2="705.5" stroke="#fff" stroke-width="1"/>
<line x1="380.5" y1="744.5" x2="466.5" y2="744.5" stroke="#fff" stroke-width="1"/>
<line x1="380.5" y1="747.5" x2="466.5" y2="747.5" stroke="#fff" stroke-width="1"/>
<path d="M380.5,697.5 H386.5 V702.5 M380.5,753.5 H386.5 V747.5" stroke="#fff" fill="none"/>
<path d="M471.5,679.5 H492.5 V770.5 H471.5 V757.5 H466.5 V744.5 M466.5,705.5 V692.5 H471.5 V679.5" stroke="#fff" fill="none"/>
<line x1="466.5" y1="705.5" x2="492.5" y2="705.5" stroke="#fff" stroke-width="1"/>
<line x1="466.5" y1="744.5" x2="492.5" y2="744.5" stroke="#fff" stroke-width="1"/>
<line x1="487.5" y1="707.5" x2="487.5" y2="744.5" stroke="#fff" stroke-width="1"/>
<line x1="475" y1="756.5" x2="487" y2="756.5" stroke="#fff" stroke-width="1"/>
<line x1="481.5" y1="749" x2="481.5" y2="765" stroke="#fff" stroke-width="1"/>
<line x1="216" y1="432.5" x2="281" y2="432.5" stroke="#f00" stroke-width="1"/>
<line x1="210" y1="483.5" x2="286" y2="483.5" stroke="#f00" stroke-width="1"/>
<line x1="214" y1="639.5" x2="286" y2="639.5" stroke="#f00" stroke-width="1"/>
<line x1="215" y1="689.5" x2="282" y2="689.5" stroke="#f00" stroke-width="1"/>
<line x1="215" y1="759.5" x2="282" y2="759.5" stroke="#f00" stroke-width="1"/>
<line x1="306" y1="445.5" x2="395" y2="445.5" stroke="#f00" stroke-width="1"/>
<line x1="301" y1="488.5" x2="405" y2="488.5" stroke="#f00" stroke-width="1"/>
<line x1="306" y1="634.5" x2="387" y2="634.5" stroke="#f00" stroke-width="1"/>
<line x1="306" y1="677.5" x2="396" y2="677.5" stroke="#f00" stroke-width="1"/>
<line x1="306" y1="772.5" x2="400" y2="772.5" stroke="#f00" stroke-width="1"/>
<line x1="380" y1="512.5" x2="463" y2="512.5" stroke="#f00" stroke-width="1"/>
<line x1="380" y1="610.5" x2="463" y2="610.5" stroke="#f00" stroke-width="1"/>
<line x1="156" y1="561.5" x2="237" y2="561.5" stroke="#f00" stroke-width="1"/>
<line x1="254" y1="561.5" x2="273" y2="561.5" stroke="#f00" stroke-width="1"/>
<line x1="300" y1="561.5" x2="316" y2="561.5" stroke="#f00" stroke-width="1"/>
<line x1="323" y1="561.5" x2="379" y2="561.5" stroke="#f00" stroke-width="1"/>
<line x1="397" y1="561.5" x2="514" y2="561.5" stroke="#f00" stroke-width="1"/>
<line x1="99" y1="724.5" x2="107" y2="724.5" stroke="#f00" stroke-width="1"/>
<line x1="156" y1="724.5" x2="386" y2="724.5" stroke="#f00" stroke-width="1"/>
<line x1="413" y1="724.5" x2="512" y2="724.5" stroke="#f00" stroke-width="1"/>
<line x1="248.5" y1="420" x2="248.5" y2="436" stroke="#f00" stroke-width="1"/>
<line x1="349.5" y1="420" x2="349.5" y2="541" stroke="#f00" stroke-width="1"/>
<line x1="349.5" y1="558" x2="349.5" y2="647.5" stroke="#f00" stroke-width="1"/>
<line x1="349.5" y1="665" x2="349.5" y2="684" stroke="#f00" stroke-width="1"/>
<line x1="421.5" y1="493" x2="421.5" y2="620" stroke="#f00" stroke-width="1"/>
<line x1="248.5" y1="695" x2="248.5" y2="745" stroke="#f00" stroke-width="1"/>
</g><g fill="none" stroke-width="1">
<line x1="171.3" y1="519.6" x2="205.8" y2="508.3" stroke="#ff0" stroke-width="1"/>
<line x1="463.5" y1="685.5" x2="504" y2="698.5" stroke="#ff0" stroke-width="1"/>
</g><g fill="none" stroke-width="1" shape-rendering="crispEdges" stroke-linecap="square">
<line x1="175.5" y1="420.5" x2="248.5" y2="420.5" stroke="#0f0" stroke-width="1"/>
<line x1="175.5" y1="416" x2="175.5" y2="533" stroke="#0f0" stroke-width="1"/>
<line x1="248.5" y1="416" x2="248.5" y2="806" stroke="#0f0" stroke-width="1"/>
<line x1="110.5" y1="561.5" x2="110.5" y2="724.5" stroke="#0f0" stroke-width="1"/>
<line x1="107" y1="561.5" x2="156" y2="561.5" stroke="#0f0" stroke-width="1"/>
<line x1="107" y1="724.5" x2="156" y2="724.5" stroke="#0f0" stroke-width="1"/>
<line x1="190.5" y1="533.5" x2="190.5" y2="589.5" stroke="#0f0" stroke-width="1"/>
<line x1="186" y1="533.5" x2="200" y2="533.5" stroke="#0f0" stroke-width="1"/>
<line x1="186" y1="589.5" x2="200" y2="589.5" stroke="#0f0" stroke-width="1"/>
<line x1="216.5" y1="533.5" x2="216.5" y2="655.5" stroke="#0f0" stroke-width="1"/>
<line x1="211" y1="533.5" x2="225" y2="533.5" stroke="#0f0" stroke-width="1"/>
<line x1="211" y1="589.5" x2="225" y2="589.5" stroke="#0f0" stroke-width="1"/>
<line x1="345.5" y1="527.5" x2="345.5" y2="595.5" stroke="#0f0" stroke-width="1"/>
<line x1="372.5" y1="524.5" x2="372.5" y2="598.5" stroke="#0f0" stroke-width="1"/>
<line x1="368" y1="524.5" x2="383" y2="524.5" stroke="#0f0" stroke-width="1"/>
<line x1="368" y1="598.5" x2="383" y2="598.5" stroke="#0f0" stroke-width="1"/>
<line x1="446.5" y1="529.5" x2="446.5" y2="594.5" stroke="#0f0" stroke-width="1"/>
<line x1="440" y1="529.5" x2="458" y2="529.5" stroke="#0f0" stroke-width="1"/>
<line x1="440" y1="594.5" x2="458" y2="594.5" stroke="#0f0" stroke-width="1"/>
<line x1="508.5" y1="533.5" x2="508.5" y2="589.5" stroke="#0f0" stroke-width="1"/>
<line x1="503" y1="533.5" x2="518" y2="533.5" stroke="#0f0" stroke-width="1"/>
<line x1="503" y1="589.5" x2="518" y2="589.5" stroke="#0f0" stroke-width="1"/>
<line x1="119.5" y1="803.5" x2="248.5" y2="803.5" stroke="#0f0" stroke-width="1"/>
<line x1="119.5" y1="706" x2="119.5" y2="806" stroke="#0f0" stroke-width="1"/>
<line x1="150.5" y1="706.5" x2="150.5" y2="791.5" stroke="#0f0" stroke-width="1"/>
<line x1="191.5" y1="706.5" x2="191.5" y2="742.5" stroke="#0f0" stroke-width="1"/>
<line x1="218.5" y1="701.5" x2="218.5" y2="746.5" stroke="#0f0" stroke-width="1"/>
<line x1="213" y1="701.5" x2="222" y2="701.5" stroke="#0f0" stroke-width="1"/>
<line x1="213" y1="746.5" x2="222" y2="746.5" stroke="#0f0" stroke-width="1"/>
<line x1="239.5" y1="690.5" x2="239.5" y2="758.5" stroke="#0f0" stroke-width="1"/>
<line x1="300.5" y1="697.5" x2="300.5" y2="752.5" stroke="#0f0" stroke-width="1"/>
<line x1="300.5" y1="697.5" x2="319" y2="697.5" stroke="#0f0" stroke-width="1"/>
<line x1="300.5" y1="752.5" x2="319" y2="752.5" stroke="#0f0" stroke-width="1"/>
<line x1="335.5" y1="702.5" x2="335.5" y2="826.5" stroke="#0f0" stroke-width="1"/>
<line x1="413.5" y1="705.5" x2="413.5" y2="745.5" stroke="#0f0" stroke-width="1"/>
<line x1="479.5" y1="705.5" x2="479.5" y2="745.5" stroke="#0f0" stroke-width="1"/>
<line x1="473" y1="705.5" x2="490" y2="705.5" stroke="#0f0" stroke-width="1"/>
<line x1="473" y1="745.5" x2="490" y2="745.5" stroke="#0f0" stroke-width="1"/>
<line x1="349.5" y1="801.5" x2="490.5" y2="801.5" stroke="#0f0" stroke-width="1"/>
<line x1="349.5" y1="702" x2="349.5" y2="806" stroke="#0f0" stroke-width="1"/>
<line x1="490.5" y1="724.5" x2="490.5" y2="806" stroke="#0f0" stroke-width="1"/>
</g>
<rect x="178" y="419" width="5" height="3" fill="#0f0"/>
<polygon points="176,420.5 179,419.3 179,421.7" fill="#0f0"/>
<rect x="241" y="419" width="5" height="3" fill="#0f0"/>
<polygon points="248,420.5 245,419.3 245,421.7" fill="#0f0"/>
<rect x="122" y="802" width="5" height="3" fill="#0f0"/>
<polygon points="120,803.5 123,802.3 123,804.7" fill="#0f0"/>
<rect x="241" y="802" width="5" height="3" fill="#0f0"/>
<polygon points="248,803.5 245,802.3 245,804.7" fill="#0f0"/>
<rect x="352" y="800" width="5" height="3" fill="#0f0"/>
<polygon points="350,801.5 353,800.3 353,802.7" fill="#0f0"/>
<rect x="483" y="800" width="5" height="3" fill="#0f0"/>
<polygon points="490,801.5 487,800.3 487,802.7" fill="#0f0"/>
<rect x="109" y="563.5" width="3" height="5" fill="#0f0"/>
<polygon points="110.5,561.5 109.3,564.5 111.7,564.5" fill="#0f0"/>
<rect x="109" y="717.5" width="3" height="5" fill="#0f0"/>
<polygon points="110.5,724.5 109.3,721.5 111.7,721.5" fill="#0f0"/>
<rect x="189" y="535.5" width="3" height="5" fill="#0f0"/>
<polygon points="190.5,533.5 189.3,536.5 191.7,536.5" fill="#0f0"/>
<rect x="189" y="582.5" width="3" height="5" fill="#0f0"/>
<polygon points="190.5,589.5 189.3,586.5 191.7,586.5" fill="#0f0"/>
<rect x="215" y="535.5" width="3" height="5" fill="#0f0"/>
<polygon points="216.5,533.5 215.3,536.5 217.7,536.5" fill="#0f0"/>
<rect x="215" y="582.5" width="3" height="5" fill="#0f0"/>
<polygon points="216.5,589.5 215.3,586.5 217.7,586.5" fill="#0f0"/>
<rect x="247" y="535.5" width="3" height="5" fill="#0f0"/>
<polygon points="248.5,533.5 247.3,536.5 249.7,536.5" fill="#0f0"/>
<rect x="247" y="582.5" width="3" height="5" fill="#0f0"/>
<polygon points="248.5,589.5 247.3,586.5 249.7,586.5" fill="#0f0"/>
<rect x="344" y="529.5" width="3" height="5" fill="#0f0"/>
<polygon points="345.5,527.5 344.3,530.5 346.7,530.5" fill="#0f0"/>
<rect x="344" y="588.5" width="3" height="5" fill="#0f0"/>
<polygon points="345.5,595.5 344.3,592.5 346.7,592.5" fill="#0f0"/>
<rect x="371" y="526.5" width="3" height="5" fill="#0f0"/>
<polygon points="372.5,524.5 371.3,527.5 373.7,527.5" fill="#0f0"/>
<rect x="371" y="591.5" width="3" height="5" fill="#0f0"/>
<polygon points="372.5,598.5 371.3,595.5 373.7,595.5" fill="#0f0"/>
<rect x="445" y="531.5" width="3" height="5" fill="#0f0"/>
<polygon points="446.5,529.5 445.3,532.5 447.7,532.5" fill="#0f0"/>
<rect x="445" y="587.5" width="3" height="5" fill="#0f0"/>
<polygon points="446.5,594.5 445.3,591.5 447.7,591.5" fill="#0f0"/>
<rect x="507" y="535.5" width="3" height="5" fill="#0f0"/>
<polygon points="508.5,533.5 507.3,536.5 509.7,536.5" fill="#0f0"/>
<rect x="507" y="582.5" width="3" height="5" fill="#0f0"/>
<polygon points="508.5,589.5 507.3,586.5 509.7,586.5" fill="#0f0"/>
<rect x="149" y="708.5" width="3" height="5" fill="#0f0"/>
<polygon points="150.5,706.5 149.3,709.5 151.7,709.5" fill="#0f0"/>
<rect x="149" y="735.5" width="3" height="5" fill="#0f0"/>
<polygon points="150.5,742.5 149.3,739.5 151.7,739.5" fill="#0f0"/>
<rect x="190" y="708.5" width="3" height="5" fill="#0f0"/>
<polygon points="191.5,706.5 190.3,709.5 192.7,709.5" fill="#0f0"/>
<rect x="190" y="735.5" width="3" height="5" fill="#0f0"/>
<polygon points="191.5,742.5 190.3,739.5 192.7,739.5" fill="#0f0"/>
<rect x="217" y="703.5" width="3" height="5" fill="#0f0"/>
<polygon points="218.5,701.5 217.3,704.5 219.7,704.5" fill="#0f0"/>
<rect x="217" y="739.5" width="3" height="5" fill="#0f0"/>
<polygon points="218.5,746.5 217.3,743.5 219.7,743.5" fill="#0f0"/>
<rect x="238" y="692.5" width="3" height="5" fill="#0f0"/>
<polygon points="239.5,690.5 238.3,693.5 240.7,693.5" fill="#0f0"/>
<rect x="238" y="751.5" width="3" height="5" fill="#0f0"/>
<polygon points="239.5,758.5 238.3,755.5 240.7,755.5" fill="#0f0"/>
<rect x="299" y="699.5" width="3" height="5" fill="#0f0"/>
<polygon points="300.5,697.5 299.3,700.5 301.7,700.5" fill="#0f0"/>
<rect x="299" y="745.5" width="3" height="5" fill="#0f0"/>
<polygon points="300.5,752.5 299.3,749.5 301.7,749.5" fill="#0f0"/>
<rect x="334" y="704.5" width="3" height="5" fill="#0f0"/>
<polygon points="335.5,702.5 334.3,705.5 336.7,705.5" fill="#0f0"/>
<rect x="334" y="740.5" width="3" height="5" fill="#0f0"/>
<polygon points="335.5,747.5 334.3,744.5 336.7,744.5" fill="#0f0"/>
<rect x="412" y="707.5" width="3" height="5" fill="#0f0"/>
<polygon points="413.5,705.5 412.3,708.5 414.7,708.5" fill="#0f0"/>
<rect x="412" y="738.5" width="3" height="5" fill="#0f0"/>
<polygon points="413.5,745.5 412.3,742.5 414.7,742.5" fill="#0f0"/>
<rect x="478" y="707.5" width="3" height="5" fill="#0f0"/>
<polygon points="479.5,705.5 478.3,708.5 480.7,708.5" fill="#0f0"/>
<rect x="478" y="738.5" width="3" height="5" fill="#0f0"/>
<polygon points="479.5,745.5 478.3,742.5 480.7,742.5" fill="#0f0"/>
<text x="200.7" y="418" font-size="10" fill="#0f0" text-anchor="start" font-family="Liberation Sans" font-weight="normal" textLength="22.7" lengthAdjust="spacingAndGlyphs">25.8</text>
<text x="172.5" y="802" font-size="10" fill="#0f0" text-anchor="start" font-family="Liberation Sans" font-weight="normal" textLength="22.7" lengthAdjust="spacingAndGlyphs">45.8</text>
<text x="409.8" y="800" font-size="10" fill="#0f0" text-anchor="start" font-family="Liberation Sans" font-weight="normal" textLength="21.4" lengthAdjust="spacingAndGlyphs">49.8</text>
<text x="0" y="0" font-size="10" fill="#0f0" text-anchor="middle" font-family="Liberation Sans" textLength="12" lengthAdjust="spacingAndGlyphs" transform="translate(109.6 644) rotate(-90)">58</text>
<text x="0" y="0" font-size="10" fill="#0f0" text-anchor="middle" font-family="Liberation Sans" textLength="34" lengthAdjust="spacingAndGlyphs" transform="translate(190.1 561.5) rotate(-90)">Ø20k6</text>
<text x="0" y="0" font-size="10" fill="#0f0" text-anchor="middle" font-family="Liberation Sans" textLength="56" lengthAdjust="spacingAndGlyphs" transform="translate(215.6 626) rotate(-90)">Ø20D11/k6</text>
<text x="0" y="0" font-size="10" fill="#0f0" text-anchor="middle" font-family="Liberation Sans" textLength="60" lengthAdjust="spacingAndGlyphs" transform="translate(247.1 561) rotate(-90)">Ø21.6H7/h6</text>
<text x="0" y="0" font-size="10" fill="#0f0" text-anchor="middle" font-family="Liberation Sans" textLength="56" lengthAdjust="spacingAndGlyphs" transform="translate(344.1 561) rotate(-90)">Ø24H7/h6</text>
<text x="0" y="0" font-size="10" fill="#0f0" text-anchor="middle" font-family="Liberation Sans" textLength="32" lengthAdjust="spacingAndGlyphs" transform="translate(370.6 561) rotate(-90)">Ø26.4</text>
<text x="0" y="0" font-size="10" fill="#0f0" text-anchor="middle" font-family="Liberation Sans" textLength="30" lengthAdjust="spacingAndGlyphs" transform="translate(445.6 561) rotate(-90)">Ø23.2</text>
<text x="0" y="0" font-size="10" fill="#0f0" text-anchor="middle" font-family="Liberation Sans" textLength="32" lengthAdjust="spacingAndGlyphs" transform="translate(507.1 561) rotate(-90)">Ø20k6</text>
<text x="0" y="0" font-size="10" fill="#0f0" text-anchor="middle" font-family="Liberation Sans" textLength="41" lengthAdjust="spacingAndGlyphs" transform="translate(150.6 770.5) rotate(-90)">Ø12.8n6</text>
<text x="0" y="0" font-size="10" fill="#0f0" text-anchor="middle" font-family="Liberation Sans" textLength="34" lengthAdjust="spacingAndGlyphs" transform="translate(190.6 724.5) rotate(-90)">Ø14k6</text>
<text x="0" y="0" font-size="10" fill="#0f0" text-anchor="middle" font-family="Liberation Sans" textLength="18" lengthAdjust="spacingAndGlyphs" transform="translate(217.1 724.5) rotate(-90)">Ø16</text>
<text x="0" y="0" font-size="10" fill="#0f0" text-anchor="middle" font-family="Liberation Sans" textLength="35" lengthAdjust="spacingAndGlyphs" transform="translate(238.1 724.5) rotate(-90)">Ø27f6</text>
<text x="0" y="0" font-size="10" fill="#0f0" text-anchor="middle" font-family="Liberation Sans" textLength="18" lengthAdjust="spacingAndGlyphs" transform="translate(299.6 724.5) rotate(-90)">Ø19</text>
<text x="0" y="0" font-size="10" fill="#0f0" text-anchor="middle" font-family="Liberation Sans" textLength="56" lengthAdjust="spacingAndGlyphs" transform="translate(334.1 798.5) rotate(-90)">Ø16H7/m6</text>
<text x="0" y="0" font-size="10" fill="#0f0" text-anchor="middle" font-family="Liberation Sans" textLength="55" lengthAdjust="spacingAndGlyphs" transform="translate(412.1 724.3) rotate(-90)">Ø14D11/k6</text>
<text x="0" y="0" font-size="10" fill="#0f0" text-anchor="middle" font-family="Liberation Sans" textLength="32" lengthAdjust="spacingAndGlyphs" transform="translate(478.1 724.5) rotate(-90)">Ø14k6</text>
<g fill="none" stroke-width="1">
<polyline points="59,327.5 81.5,327.5 226.7,436.4" stroke="#fff" fill="none"/>
<polyline points="59,388.5 81.5,388.5 220,526" stroke="#fff" fill="none"/>
<polyline points="57,448.5 81.5,448.5 173,505" stroke="#fff" fill="none"/>
<polyline points="59,505.5 81.5,505.5 205.3,574.6" stroke="#fff" fill="none"/>
<polyline points="59,595.5 81.5,595.5" stroke="#fff" fill="none"/>
<polyline points="58,637.5 81.5,637.5 199,720.2" stroke="#fff" fill="none"/>
<polyline points="58,672.5 81.5,672.5 135.9,722.8" stroke="#fff" fill="none"/>
<polyline points="595,384.5 570.5,384.5 361.8,462.9" stroke="#fff" fill="none"/>
<polyline points="595,524.5 570.5,524.5 368,693.5" stroke="#fff" fill="none"/>
<polyline points="595,583.5 570.5,583.5 433.7,702" stroke="#fff" fill="none"/>
<polyline points="595,778.5 570.5,778.5 360.6,723.5" stroke="#fff" fill="none"/>
</g>
<text x="70" y="319" font-size="21" fill="#fff" text-anchor="middle" font-family="Liberation Serif" font-weight="bold">7</text>
<text x="70" y="383" font-size="21" fill="#fff" text-anchor="middle" font-family="Liberation Serif" font-weight="bold">6</text>
<text x="70" y="441.4" font-size="21" fill="#fff" text-anchor="middle" font-family="Liberation Serif" font-weight="bold">5</text>
<text x="70" y="497.2" font-size="21" fill="#fff" text-anchor="middle" font-family="Liberation Serif" font-weight="bold">4</text>
<text x="70" y="583" font-size="21" fill="#fff" text-anchor="middle" font-family="Liberation Serif" font-weight="bold">3</text>
<text x="70" y="627.6" font-size="21" fill="#fff" text-anchor="middle" font-family="Liberation Serif" font-weight="bold">2</text>
<text x="70" y="667.3" font-size="21" fill="#fff" text-anchor="middle" font-family="Liberation Serif" font-weight="bold">1</text>
<text x="589" y="376.3" font-size="20" fill="#fff" text-anchor="middle" font-family="Liberation Sans" font-weight="normal">8</text>
<text x="588.3" y="513.4" font-size="20" fill="#fff" text-anchor="middle" font-family="Liberation Sans" font-weight="bold">9</text>
<text x="584" y="571.4" font-size="20" fill="#fff" text-anchor="middle" font-family="Liberation Sans" font-weight="normal" textLength="20" lengthAdjust="spacingAndGlyphs">10</text>
<text x="587" y="765.8" font-size="20" fill="#fff" text-anchor="middle" font-family="Liberation Sans" font-weight="bold" textLength="16.4" lengthAdjust="spacingAndGlyphs">11</text>
</svg></body></html>
